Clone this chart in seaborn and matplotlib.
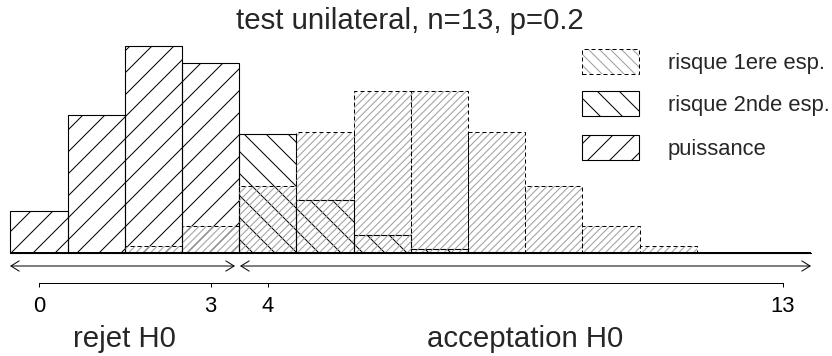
import matplotlib
matplotlib.use("Agg")
import matplotlib.pyplot as plt
import seaborn as sns
import pandas as pd
from matplotlib.patches import Rectangle

# ---------------- data ----------------
k_values = list(range(14))
p_h1 = [0.0550, 0.1787, 0.2680, 0.2457, 0.1535, 0.0691, 0.0230,
        0.0058, 0.0011, 0.0002, 0.0, 0.0, 0.0, 0.0]
p_h0 = [0.0001, 0.0016, 0.0095, 0.0349, 0.0873, 0.1571, 0.2095,
        0.2095, 0.1571, 0.0873, 0.0349, 0.0095, 0.0016, 0.0001]
region = ["puissance"] * 4 + ["risque 2nde esp."] * 10
tick_values = [0, 3, 4, 13]
title = "test unilateral, n=13, p=0.2"
legend_labels = ["risque 1ere esp.", "risque 2nde esp.", "puissance"]
zone_labels = ["rejet H0", "acceptation H0"]
zone_centers = [1.5, 8.5]

# ---------------- figure ----------------
W, H, DPI = 832, 356, 132
sns.set_style("white")
plt.rcParams["font.family"] = ["Liberation Sans", "DejaVu Sans"]
plt.rcParams["hatch.linewidth"] = 0.55

fig = plt.figure(figsize=(W / DPI, H / DPI), dpi=DPI)
ax = fig.add_axes([0, 0, 1, 1])

PX = 72 / DPI  # one pixel in points
HATCH_H1 = {"puissance": "//", "risque 2nde esp.": "\\\\"}
HATCH_H0 = "//////"
DOT_GREY = "0.62"


def kx(px):
    return (px - 39) / 57.2


def vy(py):
    return (253 - py) / 772


df = pd.DataFrame({"k": k_values, "h1": p_h1, "h0": p_h0, "region": region})

# H1 bars (puissance / risque 2nde espece)
n0 = len(ax.patches)
sns.barplot(data=df, x="k", y="h1", width=1, fill=False, color="black",
            errorbar=None, ax=ax)
for patch, reg in zip(ax.patches[n0:], df["region"]):
    patch.set_facecolor("none")
    patch.set_edgecolor("black")
    patch.set_linewidth(1.1 * PX)
    patch.set_hatch(HATCH_H1[reg])

# H0 bars: dotted hatch layer
n1 = len(ax.patches)
sns.barplot(data=df, x="k", y="h0", width=1, fill=False, color=DOT_GREY,
            errorbar=None, ax=ax)
for patch in ax.patches[n1:]:
    patch.set_facecolor("none")
    patch.set_edgecolor(DOT_GREY)
    patch.set_linewidth(0)
    patch.set_hatch(HATCH_H0)

# H0 bars: dashed outline
n2 = len(ax.patches)
sns.barplot(data=df, x="k", y="h0", width=1, fill=False, color="black",
            errorbar=None, ax=ax)
for patch in ax.patches[n2:]:
    patch.set_facecolor("none")
    patch.set_edgecolor("black")
    patch.set_linewidth(1.0 * PX)
    patch.set_linestyle((0, (4, 3)))

ax.hlines(0, -0.5, 13.5, color="black", lw=2 * PX)

ax.set_xlim(kx(0), kx(W))
ax.set_ylim(vy(H), vy(0))
ax.set_xlabel("")
ax.set_ylabel("")
ax.set_yticks([])

# bottom axis with ticks 0, 3, 4, 13
for s in ["top", "right", "left"]:
    ax.spines[s].set_visible(False)
ax.spines["bottom"].set_visible(True)
ax.spines["bottom"].set_position(("data", vy(283)))
ax.spines["bottom"].set_bounds(tick_values[0], tick_values[-1])
ax.spines["bottom"].set_linewidth(1 * PX)
ax.spines["bottom"].set_color("black")
ax.set_xticks(tick_values, labels=[str(t) for t in tick_values])
ax.tick_params(axis="x", direction="out", length=4 * PX, width=1 * PX,
               pad=9 * PX, labelsize=12, colors="black", bottom=True)

# arrows for rejection / acceptance zones
arrow_kw = dict(arrowstyle="<->,head_length=0.45,head_width=0.28",
                lw=1 * PX, color="black", shrinkA=0, shrinkB=0,
                mutation_scale=10)
ax.annotate("", xy=(kx(235), vy(266)), xytext=(kx(10), vy(266)),
            arrowprops=arrow_kw)
ax.annotate("", xy=(kx(811), vy(266)), xytext=(kx(240), vy(266)),
            arrowprops=arrow_kw)

for lab, c in zip(zone_labels, zone_centers):
    ax.text(c, vy(347), lab, ha="center", va="baseline", fontsize=16)

fig.text(410 / W, 1 - 29 / H, title, ha="center", va="baseline", fontsize=16)

# legend (manual)
box_tops = [49, 91, 135]
box_hatch = ["\\\\\\\\", "\\\\", "//"]
for i, (lab, top) in enumerate(zip(legend_labels, box_tops)):
    rect_xy = (582 / W, 1 - (top + 25) / H)
    rw, rh = 57 / W, 25 / H
    if i == 0:
        fig.add_artist(Rectangle(rect_xy, rw, rh, transform=fig.transFigure,
                                 facecolor="none", edgecolor=DOT_GREY, lw=0,
                                 hatch=box_hatch[i]))
        fig.add_artist(Rectangle(rect_xy, rw, rh, transform=fig.transFigure,
                                 facecolor="none", edgecolor="black",
                                 lw=1 * PX, linestyle=(0, (4, 3))))
    else:
        fig.add_artist(Rectangle(rect_xy, rw, rh, transform=fig.transFigure,
                                 facecolor="none", edgecolor="black",
                                 lw=1.1 * PX, hatch=box_hatch[i]))
    fig.text(668 / W, 1 - (top + 12.5 + 8) / H, lab, ha="left",
             va="baseline", fontsize=12)

fig.savefig("out.png", dpi=DPI)
